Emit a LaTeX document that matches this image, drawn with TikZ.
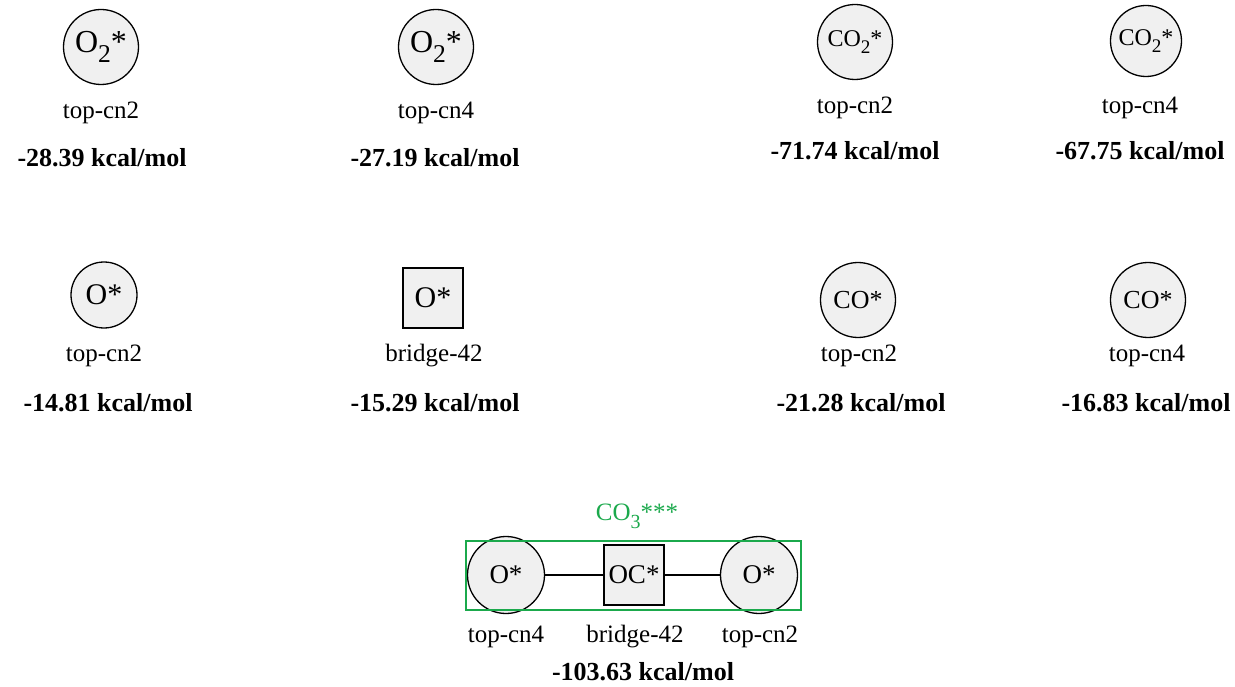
\documentclass[tikz,border=0pt]{standalone}
\usepackage{fontspec}
\usepackage{graphicx}
\setmainfont{Liberation Serif}
\definecolor{sitefill}{HTML}{F0F0F0}
\definecolor{groupgreen}{HTML}{1BA94C}
\newcommand\fs[1]{\fontsize{#1}{#1}\selectfont}
% chemical subscript: smaller and dropped well below the baseline
\newcommand\dn[1]{\raisebox{-0.32em}{\scalebox{0.8}{#1}}}
\begin{document}
\begin{tikzpicture}[x=1pt,y=-1pt,
  topsite/.style={circle, draw, fill=sitefill, line width=1.3pt, inner sep=0pt, minimum size=#1},
  bridgesite/.style={rectangle, draw, fill=sitefill, line width=1.3pt, inner sep=0pt, minimum size=60pt},
  sitelabel/.style={font=\fs{25}},
  energy/.style={font=\fs{26}\bfseries},
  bond/.style={line width=1.3pt},
  group/.style={draw=groupgreen, line width=1.8pt}]
\useasboundingbox (0,0) rectangle (1235,687);

% --- row 1: O2 and CO2 adsorption ---
\node[topsite=75pt, font=\fs{32}] (o2a) at (101,47) {O\dn{2}*};
\node[sitelabel] (o2al) at (101,113) {top-cn2};
\node[energy] (o2ae) at (102,158) {-28.39 kcal/mol};

\node[topsite=75pt, font=\fs{32}] (o2b) at (436,47) {O\dn{2}*};
\node[sitelabel] (o2bl) at (436,113) {top-cn4};
\node[energy] (o2be) at (435,158) {-27.19 kcal/mol};

\node[topsite=75pt, font=\fs{24}] (co2a) at (855,42) {CO\dn{2}*};
\node[sitelabel] (co2al) at (855,108) {top-cn2};
\node[energy] (co2ae) at (855,151) {-71.74 kcal/mol};

\node[topsite=71pt, font=\fs{24}] (co2b) at (1146,41) {CO\dn{2}*};
\node[sitelabel] (co2bl) at (1140,108) {top-cn4};
\node[energy] (co2be) at (1140,151) {-67.75 kcal/mol};

% --- row 2: O and CO adsorption ---
\node[topsite=66pt, font=\fs{30}] (oa) at (104,295) {O*};
\node[sitelabel] (oal) at (104,356) {top-cn2};
\node[energy] (oae) at (108,403) {-14.81 kcal/mol};

\node[bridgesite, font=\fs{30}] (ob) at (433,298) {O*};
\node[sitelabel] (obl) at (434,356) {bridge-42};
\node[energy] (obe) at (435,403) {-15.29 kcal/mol};

\node[topsite=75pt, font=\fs{26}] (coa) at (858,300) {CO*};
\node[sitelabel] (coal) at (859,356) {top-cn2};
\node[energy] (coae) at (861,403) {-21.28 kcal/mol};

\node[topsite=75pt, font=\fs{26}] (cob) at (1148,300) {CO*};
\node[sitelabel] (cobl) at (1147,356) {top-cn4};
\node[energy] (cobe) at (1146,403) {-16.83 kcal/mol};

% --- row 3: CO3 spanning three sites ---
\node[topsite=77pt, font=\fs{27}] (c3a) at (506,575) {O*};
\node[bridgesite, font=\fs{27}] (c3b) at (634,575) {OC*};
\node[topsite=77pt, font=\fs{27}] (c3c) at (759,575) {O*};
\draw[bond] (c3a) -- (c3b);
\draw[bond] (c3b) -- (c3c);
\draw[group] (466,541) rectangle (801,610);
\node[font=\fs{25}, text=groupgreen] (c3name) at (637,516) {CO\dn{3}***};
\node[sitelabel] (c3al) at (506,637) {top-cn4};
\node[sitelabel] (c3bl) at (635,637) {bridge-42};
\node[sitelabel] (c3cl) at (760,637) {top-cn2};
\node[energy] (c3e) at (643,672) {-103.63 kcal/mol};
\end{tikzpicture}
\end{document}
